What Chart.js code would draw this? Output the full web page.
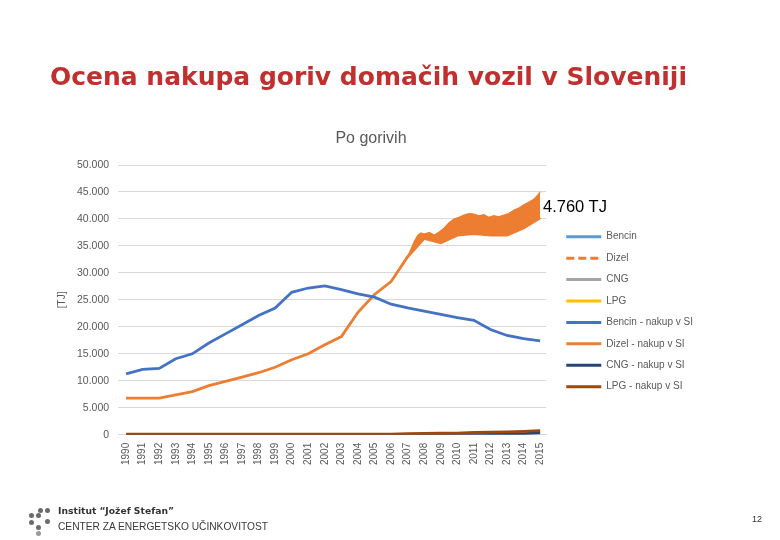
<!DOCTYPE html>
<html>
<head>
<meta charset="utf-8">
<script src="https://cdn.jsdelivr.net/npm/chart.js@4.4.1/dist/chart.umd.min.js"></script>
<style>
html,body{margin:0;padding:0;background:#fff;}
#page{position:relative;width:780px;height:540px;overflow:hidden;background:#fff;}
#chartbox{position:absolute;left:0;top:0;width:780px;height:540px;}
.txt{position:absolute;white-space:nowrap;transform-origin:0 50%;}
#slideTitle{left:50px;top:64px;font:bold 25px/25px "DejaVu Sans",sans-serif;color:#C0302F;}
#chartTitle{left:0;width:742px;text-align:center;top:128px;font:16px/20px "Liberation Sans",Arial,sans-serif;color:#595959;}
#note{left:543px;top:196px;font:16.5px/20px "Liberation Sans",Arial,sans-serif;color:#000;}
#inst{left:58px;top:504px;font:bold 9.5px/13px "DejaVu Sans",sans-serif;color:#333;}
#cez{left:58px;top:519px;font:11.5px/14px "Liberation Sans",Arial,sans-serif;color:#3a3a3a;}
#pg{left:752px;top:513px;font:9px/12px "Liberation Sans",Arial,sans-serif;color:#333;}
.dot{position:absolute;width:5px;height:5px;border-radius:50%;background:#6b6b6b;}
</style>
</head>
<body>
<div id="page">
  <div id="chartbox"><canvas id="c"></canvas></div>
  <div class="txt" id="slideTitle">Ocena nakupa goriv domačih vozil v Sloveniji</div>
  <div class="txt" id="chartTitle">Po gorivih</div>
  <div class="txt" id="note">4.760 TJ</div>
  <div class="dot" style="left:38px;top:508px"></div>
  <div class="dot" style="left:45px;top:508px"></div>
  <div class="dot" style="left:29px;top:513px"></div>
  <div class="dot" style="left:36px;top:513px"></div>
  <div class="dot" style="left:29px;top:520px"></div>
  <div class="dot" style="left:45px;top:519px"></div>
  <div class="dot" style="left:36px;top:525px"></div>
  <div class="dot" style="left:36px;top:531px;background:#999"></div>
  <div class="txt" id="inst">Institut “Jožef Stefan”</div>
  <div class="txt" id="cez">CENTER ZA ENERGETSKO UČINKOVITOST</div>
  <div class="txt" id="pg">12</div>
</div>
<script>
// ---- data ----
const years = [1990,1991,1992,1993,1994,1995,1996,1997,1998,1999,2000,2001,2002,2003,2004,2005,2006,2007,2008,2009,2010,2011,2012,2013,2014,2015];
const yTickValues = [0,5000,10000,15000,20000,25000,30000,35000,40000,45000,50000];

const bencinNakup = [11300,12100,12300,14100,15000,17000,18700,20400,22100,23500,26400,27200,27600,26900,26100,25500,24200,23500,22900,22300,21700,21200,19500,18400,17800,17400];
const dizelNakup  = [6800,6800,6800,7400,8000,9100,9900,10700,11500,12500,13900,15000,16700,18200,22700,26000,28400,33000,36400,35600,37000,37300,37000,37000,38300,40200];
const cngNakup    = [0,0,0,0,0,0,0,0,0,0,0,0,0,0,0,0,0,0,0,0,0,30,80,150,220,350];
const lpgNakup    = [100,100,100,100,100,100,100,100,100,100,100,100,100,100,100,100,100,200,250,280,300,420,480,550,620,750];

// monthly-like "Dizel" upper edge (band), from 2007 on
const dizelTime   = [2007.0,2007.4,2007.6,2007.8,2008.0,2008.3,2008.6,2008.9,2009.2,2009.5,2009.8,2010.1,2010.4,2010.7,2011.0,2011.3,2011.6,2011.9,2012.2,2012.5,2012.8,2013.1,2013.4,2013.7,2014.0,2014.3,2014.6,2014.8,2015.0];
const dizelValues = [33000,35800,36900,37400,37200,37500,37000,37600,38300,39300,40000,40300,40700,41000,40900,40600,40800,40300,40600,40400,40700,41000,41600,42000,42600,43100,43600,44200,45000];

// series shown in the legend but not visible in the plot
const bencin = [];
const cng = [];
const lpg = [];

const seriesNames = ['Bencin','Dizel','CNG','LPG','Bencin - nakup v SI','Dizel - nakup v SI','CNG - nakup v SI','LPG - nakup v SI'];

// ---- build ----
const pts = (xs, ys) => xs.map((x, i) => ({x: x, y: ys[i]}));
const fmt = v => String(v).replace(/\B(?=(\d{3})+(?!\d))/g, '.');

const colors = ['#5B9BD5','#ED7D31','#A5A5A5','#FFC000','#4472C4','#ED7D31','#264478','#9E480E'];

Chart.defaults.font.family = '"Liberation Sans", Arial, sans-serif';
Chart.defaults.color = '#595959';

const base = (i, data, extra) => Object.assign({
  label: seriesNames[i], data: data, borderColor: colors[i], backgroundColor: colors[i],
  borderWidth: 2.8, pointRadius: 0, pointHoverRadius: 0, tension: 0, fill: false
}, extra || {});

const datasets = [
  base(0, bencin),
  base(1, pts(dizelTime, dizelValues), {borderWidth: 1.2, fill: {target: 5}, backgroundColor: '#ED7D31'}),
  base(2, cng),
  base(3, lpg),
  base(4, pts(years, bencinNakup)),
  base(5, pts(years, dizelNakup)),
  base(6, pts(years, cngNakup)),
  base(7, pts(years, lpgNakup), {order: -1})
];

new Chart(document.getElementById('c'), {
  type: 'line',
  data: {datasets: datasets},
  options: {
    responsive: true, maintainAspectRatio: false, animation: false, devicePixelRatio: 1,
    layout: {padding: {left: 56, right: 77, top: 165, bottom: 67}},
    plugins: {
      title: {display: false},
      tooltip: {enabled: false},
      legend: {
        position: 'right',
        align: 'start',
        title: {display: true, text: ' ', font: {size: 10, lineHeight: 1.2}, padding: {top: 34.7, bottom: 0}},
        labels: {
          usePointStyle: true,
          pointStyleWidth: 35,
          padding: 20,
          color: '#595959',
          font: {size: 10, lineHeight: '1.43px'},
          sort: (a, b) => a.datasetIndex - b.datasetIndex,
          generateLabels: (chart) => {
            const items = Chart.defaults.plugins.legend.labels.generateLabels(chart);
            return items.map(it => {
              const i = it.datasetIndex;
              it.text = [seriesNames[i]];
              it.pointStyle = 'line';
              it.strokeStyle = colors[i];
              it.fillStyle = colors[i];
              it.lineWidth = 3;
              it.lineDash = (i === 1) ? [8, 4] : [];
              it.lineCap = 'butt';
              return it;
            });
          }
        }
      }
    },
    scales: {
      x: {
        type: 'linear', bounds: 'data', min: 1989.52, max: 2015.37,
        afterBuildTicks: s => { s.ticks = years.map(v => ({value: v})); },
        ticks: {callback: v => String(v), autoSkip: false, maxRotation: 90, minRotation: 90, padding: 8, font: {size: 10}, color: '#595959'},
        grid: {display: false, drawTicks: false},
        border: {display: true, color: '#D9D9D9'}
      },
      y: {
        min: 0, max: 50000,
        afterBuildTicks: s => { s.ticks = yTickValues.map(v => ({value: v})); },
        ticks: {callback: v => fmt(v), padding: 9, font: {size: 10.5}, color: '#595959'},
        grid: {color: '#D9D9D9', drawTicks: false, lineWidth: 1},
        border: {display: false},
        title: {display: true, text: '[TJ]', font: {size: 10}, color: '#595959', padding: {top: 0, bottom: 0}}
      }
    }
  }
});

function fitWidth(id, w) {
  const el = document.getElementById(id);
  const r = el.getBoundingClientRect().width;
  if (r > 0) el.style.transform = 'scaleX(' + (w / r) + ')';
}
fitWidth('slideTitle', 637);
fitWidth('inst', 116);
fitWidth('cez', 210);
</script>
</body>
</html>
